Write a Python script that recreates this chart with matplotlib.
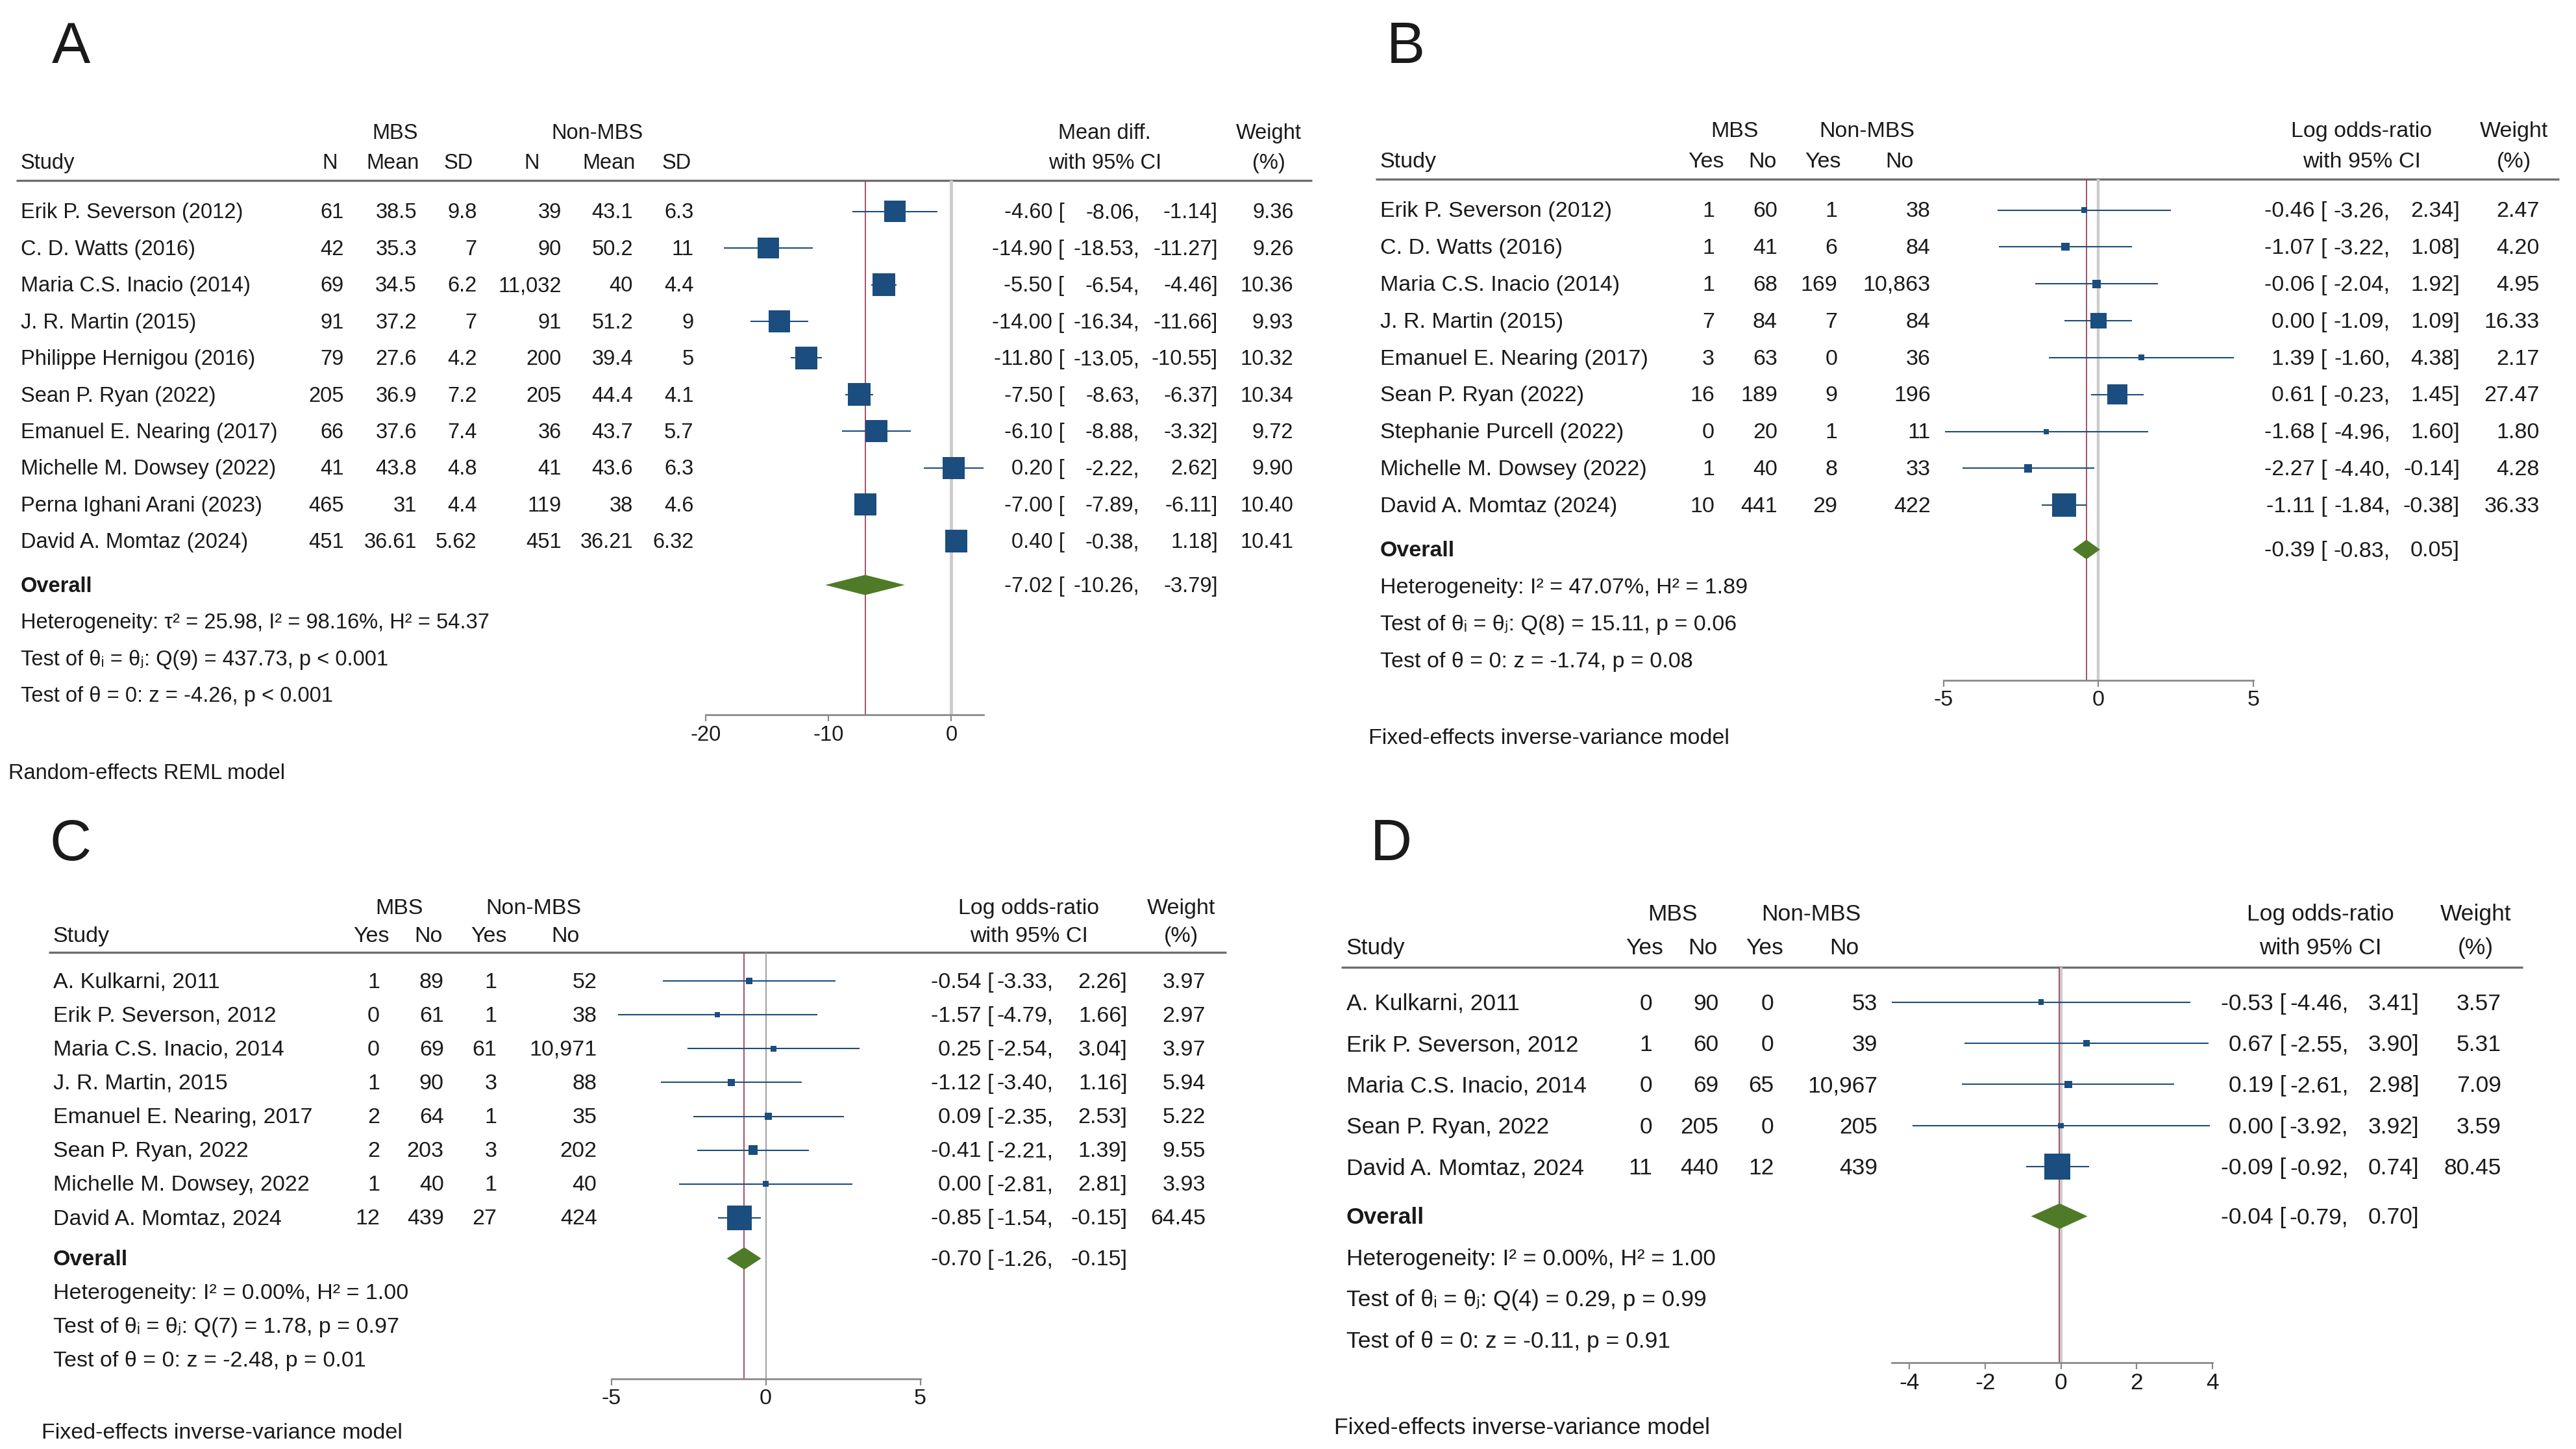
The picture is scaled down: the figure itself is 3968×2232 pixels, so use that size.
import numpy as np
import matplotlib
matplotlib.use('Agg')
import matplotlib.pyplot as plt
from matplotlib.patches import Polygon

plt.rcParams['font.family'] = ['Liberation Sans', 'DejaVu Sans']

# ── DATA ─────────────────────────────────────────────────────────────────────
# Panel A: mean difference
a_studies = ['Erik P. Severson (2012)', 'C. D. Watts (2016)', 'Maria C.S. Inacio (2014)',
             'J. R. Martin (2015)', 'Philippe Hernigou (2016)', 'Sean P. Ryan (2022)',
             'Emanuel E. Nearing (2017)', 'Michelle M. Dowsey (2022)',
             'Perna Ighani Arani (2023)', 'David A. Momtaz (2024)']
a_mbs_n = [61, 42, 69, 91, 79, 205, 66, 41, 465, 451]
a_mbs_mean = [38.5, 35.3, 34.5, 37.2, 27.6, 36.9, 37.6, 43.8, 31, 36.61]
a_mbs_sd = [9.8, 7, 6.2, 7, 4.2, 7.2, 7.4, 4.8, 4.4, 5.62]
a_non_n = [39, 90, 11032, 91, 200, 205, 36, 41, 119, 451]
a_non_mean = [43.1, 50.2, 40, 51.2, 39.4, 44.4, 43.7, 43.6, 38, 36.21]
a_non_sd = [6.3, 11, 4.4, 9, 5, 4.1, 5.7, 6.3, 4.6, 6.32]
a_est = [-4.60, -14.90, -5.50, -14.00, -11.80, -7.50, -6.10, 0.20, -7.00, 0.40]
a_lo = [-8.06, -18.53, -6.54, -16.34, -13.05, -8.63, -8.88, -2.22, -7.89, -0.38]
a_hi = [-1.14, -11.27, -4.46, -11.66, -10.55, -6.37, -3.32, 2.62, -6.11, 1.18]
a_weight = [9.36, 9.26, 10.36, 9.93, 10.32, 10.34, 9.72, 9.90, 10.40, 10.41]
a_overall = [-7.02, -10.26, -3.79]
a_stats = ['Heterogeneity: τ² = 25.98, I² = 98.16%, H² = 54.37',
           'Test of θᵢ = θⱼ: Q(9) = 437.73, p < 0.001',
           'Test of θ = 0: z = -4.26, p < 0.001']

# Panel B: log odds-ratio
b_studies = ['Erik P. Severson (2012)', 'C. D. Watts (2016)', 'Maria C.S. Inacio (2014)',
             'J. R. Martin (2015)', 'Emanuel E. Nearing (2017)', 'Sean P. Ryan (2022)',
             'Stephanie Purcell (2022)', 'Michelle M. Dowsey (2022)', 'David A. Momtaz (2024)']
b_mbs_yes = [1, 1, 1, 7, 3, 16, 0, 1, 10]
b_mbs_no = [60, 41, 68, 84, 63, 189, 20, 40, 441]
b_non_yes = [1, 6, 169, 7, 0, 9, 1, 8, 29]
b_non_no = [38, 84, 10863, 84, 36, 196, 11, 33, 422]
b_est = [-0.46, -1.07, -0.06, 0.00, 1.39, 0.61, -1.68, -2.27, -1.11]
b_lo = [-3.26, -3.22, -2.04, -1.09, -1.60, -0.23, -4.96, -4.40, -1.84]
b_hi = [2.34, 1.08, 1.92, 1.09, 4.38, 1.45, 1.60, -0.14, -0.38]
b_weight = [2.47, 4.20, 4.95, 16.33, 2.17, 27.47, 1.80, 4.28, 36.33]
b_overall = [-0.39, -0.83, 0.05]
b_stats = ['Heterogeneity: I² = 47.07%, H² = 1.89',
           'Test of θᵢ = θⱼ: Q(8) = 15.11, p = 0.06',
           'Test of θ = 0: z = -1.74, p = 0.08']

# Panel C: log odds-ratio
c_studies = ['A. Kulkarni, 2011', 'Erik P. Severson, 2012', 'Maria C.S. Inacio, 2014',
             'J. R. Martin, 2015', 'Emanuel E. Nearing, 2017', 'Sean P. Ryan, 2022',
             'Michelle M. Dowsey, 2022', 'David A. Momtaz, 2024']
c_mbs_yes = [1, 0, 0, 1, 2, 2, 1, 12]
c_mbs_no = [89, 61, 69, 90, 64, 203, 40, 439]
c_non_yes = [1, 1, 61, 3, 1, 3, 1, 27]
c_non_no = [52, 38, 10971, 88, 35, 202, 40, 424]
c_est = [-0.54, -1.57, 0.25, -1.12, 0.09, -0.41, 0.00, -0.85]
c_lo = [-3.33, -4.79, -2.54, -3.40, -2.35, -2.21, -2.81, -1.54]
c_hi = [2.26, 1.66, 3.04, 1.16, 2.53, 1.39, 2.81, -0.15]
c_weight = [3.97, 2.97, 3.97, 5.94, 5.22, 9.55, 3.93, 64.45]
c_overall = [-0.70, -1.26, -0.15]
c_stats = ['Heterogeneity: I² = 0.00%, H² = 1.00',
           'Test of θᵢ = θⱼ: Q(7) = 1.78, p = 0.97',
           'Test of θ = 0: z = -2.48, p = 0.01']

# Panel D: log odds-ratio
d_studies = ['A. Kulkarni, 2011', 'Erik P. Severson, 2012', 'Maria C.S. Inacio, 2014',
             'Sean P. Ryan, 2022', 'David A. Momtaz, 2024']
d_mbs_yes = [0, 1, 0, 0, 11]
d_mbs_no = [90, 60, 69, 205, 440]
d_non_yes = [0, 0, 65, 0, 12]
d_non_no = [53, 39, 10967, 205, 439]
d_est = [-0.53, 0.67, 0.19, 0.00, -0.09]
d_lo = [-4.46, -2.55, -2.61, -3.92, -0.92]
d_hi = [3.41, 3.90, 2.98, 3.92, 0.74]
d_weight = [3.57, 5.31, 7.09, 3.59, 80.45]
d_overall = [-0.04, -0.79, 0.70]
d_stats = ['Heterogeneity: I² = 0.00%, H² = 1.00',
           'Test of θᵢ = θⱼ: Q(4) = 0.29, p = 0.99',
           'Test of θ = 0: z = -0.11, p = 0.91']

md_cols = ['N', 'Mean', 'SD', 'N', 'Mean', 'SD']
yn_cols = ['Yes', 'No', 'Yes', 'No']

panels = [
    dict(letter='A', studies=a_studies,
         cols=[a_mbs_n, a_mbs_mean, a_mbs_sd, a_non_n, a_non_mean, a_non_sd], col_names=md_cols,
         est=a_est, lo=a_lo, hi=a_hi, weight=a_weight, overall=a_overall, stats=a_stats,
         eff_label='Mean diff.', note='Random-effects REML model',
         ticks=[-20, -10, 0], axis_range=(-20, 2.62)),
    dict(letter='B', studies=b_studies,
         cols=[b_mbs_yes, b_mbs_no, b_non_yes, b_non_no], col_names=yn_cols,
         est=b_est, lo=b_lo, hi=b_hi, weight=b_weight, overall=b_overall, stats=b_stats,
         eff_label='Log odds-ratio', note='Fixed-effects inverse-variance model',
         ticks=[-5, 0, 5], axis_range=(-5, 5)),
    dict(letter='C', studies=c_studies,
         cols=[c_mbs_yes, c_mbs_no, c_non_yes, c_non_no], col_names=yn_cols,
         est=c_est, lo=c_lo, hi=c_hi, weight=c_weight, overall=c_overall, stats=c_stats,
         eff_label='Log odds-ratio', note='Fixed-effects inverse-variance model',
         ticks=[-5, 0, 5], axis_range=(-5, 5)),
    dict(letter='D', studies=d_studies,
         cols=[d_mbs_yes, d_mbs_no, d_non_yes, d_non_no], col_names=yn_cols,
         est=d_est, lo=d_lo, hi=d_hi, weight=d_weight, overall=d_overall, stats=d_stats,
         eff_label='Log odds-ratio', note='Fixed-effects inverse-variance model',
         ticks=[-4, -2, 0, 2, 4], axis_range=(-4.46, 4)),
]

# ── LAYOUT (pixel positions in the 3968x2232 canvas) ─────────────────────────
layouts = [
    dict(y0=325.7, sp=56.41, fs=23.5, letter_xy=(109, 74),
         study_x=31.6, grp_x=(609, 920.4), hdr_x=[508.6, 604.7, 706.4, 818.7, 937.9, 1041.8],
         col_r=[529.6, 641.9, 734.5, 865, 975, 1068.4], hline=(24.6, 2021),
         eff_hdr=1701.8, wt_hdr=1954.3, eff_r=[1639.5, 1755.4, 1875.9], wt_r=1992.4,
         zero=1465.4, ppu=18.92, xlim=(-21.5, 3.5), note_x=12.6, note_row=15.3,
         box=25.0, dia=0.275, zero_style=('#cccccc', 3.6)),
    dict(y0=323.5, sp=56.84, fs=24.5, letter_xy=(2165, 74),
         study_x=2125.5, grp_x=(2672, 2876), hdr_x=[2628, 2715.4, 2808, 2926],
         col_r=[2640.8, 2737.8, 2830.2, 2973.7], hline=(2119, 3942),
         eff_hdr=3637.7, wt_hdr=3872.8, eff_r=[3584.6, 3682, 3789], wt_r=3911.6,
         zero=3232.4, ppu=47.68, xlim=(-5.6, 5.6), note_x=2107.7, note_row=14.28,
         box=26.0, dia=0.265, zero_style=('#cccccc', 3.2)),
    dict(y0=1511, sp=52.13, fs=24.5, letter_xy=(109, 1302),
         study_x=81.6, grp_x=(615.4, 821.4), hdr_x=[572, 660, 752.6, 870.5],
         col_r=[584.8, 683.7, 765.3, 919.6], hline=(75.3, 1889.4),
         eff_hdr=1584.6, wt_hdr=1819.3, eff_r=[1530.4, 1622.8, 1736.4], wt_r=1856.9,
         zero=1179.6, ppu=47.58, xlim=(-5.6, 5.6), note_x=63.8, note_row=13.33,
         box=27.4, dia=0.33, zero_style=('#a0a0a0', 1.4)),
    dict(y0=1543.6, sp=63.43, fs=25.5, letter_xy=(2143, 1302),
         study_x=2073.6, grp_x=(2576, 2789.8), hdr_x=[2532.8, 2622.7, 2718.4, 2840.8],
         col_r=[2545.5, 2647.6, 2732.4, 2891.8], hline=(2066, 3885.8),
         eff_hdr=3574, wt_hdr=3813.6, eff_r=[3521.6, 3617.3, 3726.5], wt_r=3853,
         zero=3174.7, ppu=58.4, xlim=(-4.8, 4.5), note_x=2055, note_row=10.3,
         box=28.8, dia=0.31, zero_style=('#cccccc', 3.0)),
]

W, H = 3968, 2232
NAVY = '#1b4d7e'
GREEN = '#4f7a28'
RED = '#9b4358'
TXT = '#1a1a1a'
GRAY = '#6e6e6e'
DY = 0.04  # small downward nudge so glyphs sit on the row centre

fig = plt.figure(figsize=(W / 100, H / 100), dpi=100)
fig.patch.set_facecolor('white')


def fmt(v):
    return f'{v:,g}'


def draw_panel(p, lay):
    y0, sp, fs = lay['y0'], lay['sp'], lay['fs']
    n = len(p['studies'])
    rows = np.arange(n)
    ov_row = n + 0.2
    axis_row = n + 3.75
    top_row = -0.84

    # text layer: x in pixels, y in rows
    tx = fig.add_axes([0, 0, 1, 1])
    tx.set_xlim(0, W)
    tx.set_ylim((H - y0) / sp - DY, -y0 / sp - DY)
    tx.axis('off')
    kw = dict(fontsize=fs, color=TXT, va='center')

    tx.text(lay['grp_x'][0], -2.17, 'MBS', ha='center', **kw)
    tx.text(lay['grp_x'][1], -2.17, 'Non-MBS', ha='center', **kw)
    tx.text(lay['study_x'], -1.35, 'Study', ha='left', **kw)
    for name, x in zip(p['col_names'], lay['hdr_x']):
        tx.text(x, -1.35, name, ha='center', **kw)
    tx.text(lay['eff_hdr'], -2.17, p['eff_label'], ha='center', **kw)
    tx.text(lay['eff_hdr'], -1.35, 'with 95% CI', ha='center', **kw)
    tx.text(lay['wt_hdr'], -2.17, 'Weight', ha='center', **kw)
    tx.text(lay['wt_hdr'], -1.35, '(%)', ha='center', **kw)
    tx.hlines(top_row - DY, *lay['hline'], color=GRAY, lw=2.4)

    for i in rows:
        tx.text(lay['study_x'], i, p['studies'][i], ha='left', **kw)
        for col, x in zip(p['cols'], lay['col_r']):
            tx.text(x, i, fmt(col[i]), ha='right', **kw)
        tx.text(lay['eff_r'][0], i, f"{p['est'][i]:.2f} [", ha='right', **kw)
        tx.text(lay['eff_r'][1], i, f"{p['lo'][i]:.2f},", ha='right', **kw)
        tx.text(lay['eff_r'][2], i, f"{p['hi'][i]:.2f}]", ha='right', **kw)
        tx.text(lay['wt_r'], i, f"{p['weight'][i]:.2f}", ha='right', **kw)

    o_est, o_lo, o_hi = p['overall']
    tx.text(lay['study_x'], ov_row, 'Overall', ha='left', fontweight='bold', **kw)
    tx.text(lay['eff_r'][0], ov_row, f'{o_est:.2f} [', ha='right', **kw)
    tx.text(lay['eff_r'][1], ov_row, f'{o_lo:.2f},', ha='right', **kw)
    tx.text(lay['eff_r'][2], ov_row, f'{o_hi:.2f}]', ha='right', **kw)
    for k, line in enumerate(p['stats']):
        tx.text(lay['study_x'], ov_row + 1 + k, line, ha='left', **kw)
    tx.text(lay['note_x'], lay['note_row'], p['note'], ha='left', **kw)

    lx, ly = lay['letter_xy']
    fig.text(lx / W, 1 - ly / H, p['letter'], fontsize=64, color=TXT, ha='center', va='center')

    # forest plot
    x_lo, x_hi = lay['xlim']
    left = lay['zero'] + x_lo * lay['ppu']
    width = (x_hi - x_lo) * lay['ppu']
    top_px = y0 + top_row * sp
    bot_px = y0 + axis_row * sp
    fx = fig.add_axes([left / W, 1 - bot_px / H, width / W, (bot_px - top_px) / H])
    fx.set_facecolor('none')
    fx.set_xlim(x_lo, x_hi)
    fx.set_ylim(axis_row, top_row)
    for s in ['top', 'left', 'right']:
        fx.spines[s].set_visible(False)
    fx.spines['bottom'].set_bounds(*p['axis_range'])
    fx.spines['bottom'].set_color('#8a8a8a')
    fx.spines['bottom'].set_linewidth(2.0)
    fx.set_yticks([])
    fx.set_xticks(p['ticks'])
    fx.set_xticklabels([str(t) for t in p['ticks']])
    fx.tick_params(axis='x', direction='out', length=7, width=1.6, color='#8a8a8a',
                   labelsize=fs, labelcolor=TXT, pad=4)

    zc, zw = lay['zero_style']
    fx.axvline(0, color=zc, lw=zw, zorder=1)
    fx.axvline(o_est, color=RED, lw=1.3, zorder=2)

    w = np.array(p['weight'])
    fx.hlines(rows, p['lo'], p['hi'], color=NAVY, lw=1.5, zorder=3)
    side = lay['box'] * np.sqrt(w / w.max())
    fx.scatter(p['est'], rows, s=side ** 2, marker='s', color=NAVY, linewidths=0, zorder=4)

    h = lay['dia']
    fx.add_patch(Polygon([[o_lo, ov_row], [o_est, ov_row - h], [o_hi, ov_row], [o_est, ov_row + h]],
                         closed=True, facecolor=GREEN, edgecolor='none', zorder=4))


for p, lay in zip(panels, layouts):
    draw_panel(p, lay)

fig.savefig('out.png', dpi=100, facecolor='white')
